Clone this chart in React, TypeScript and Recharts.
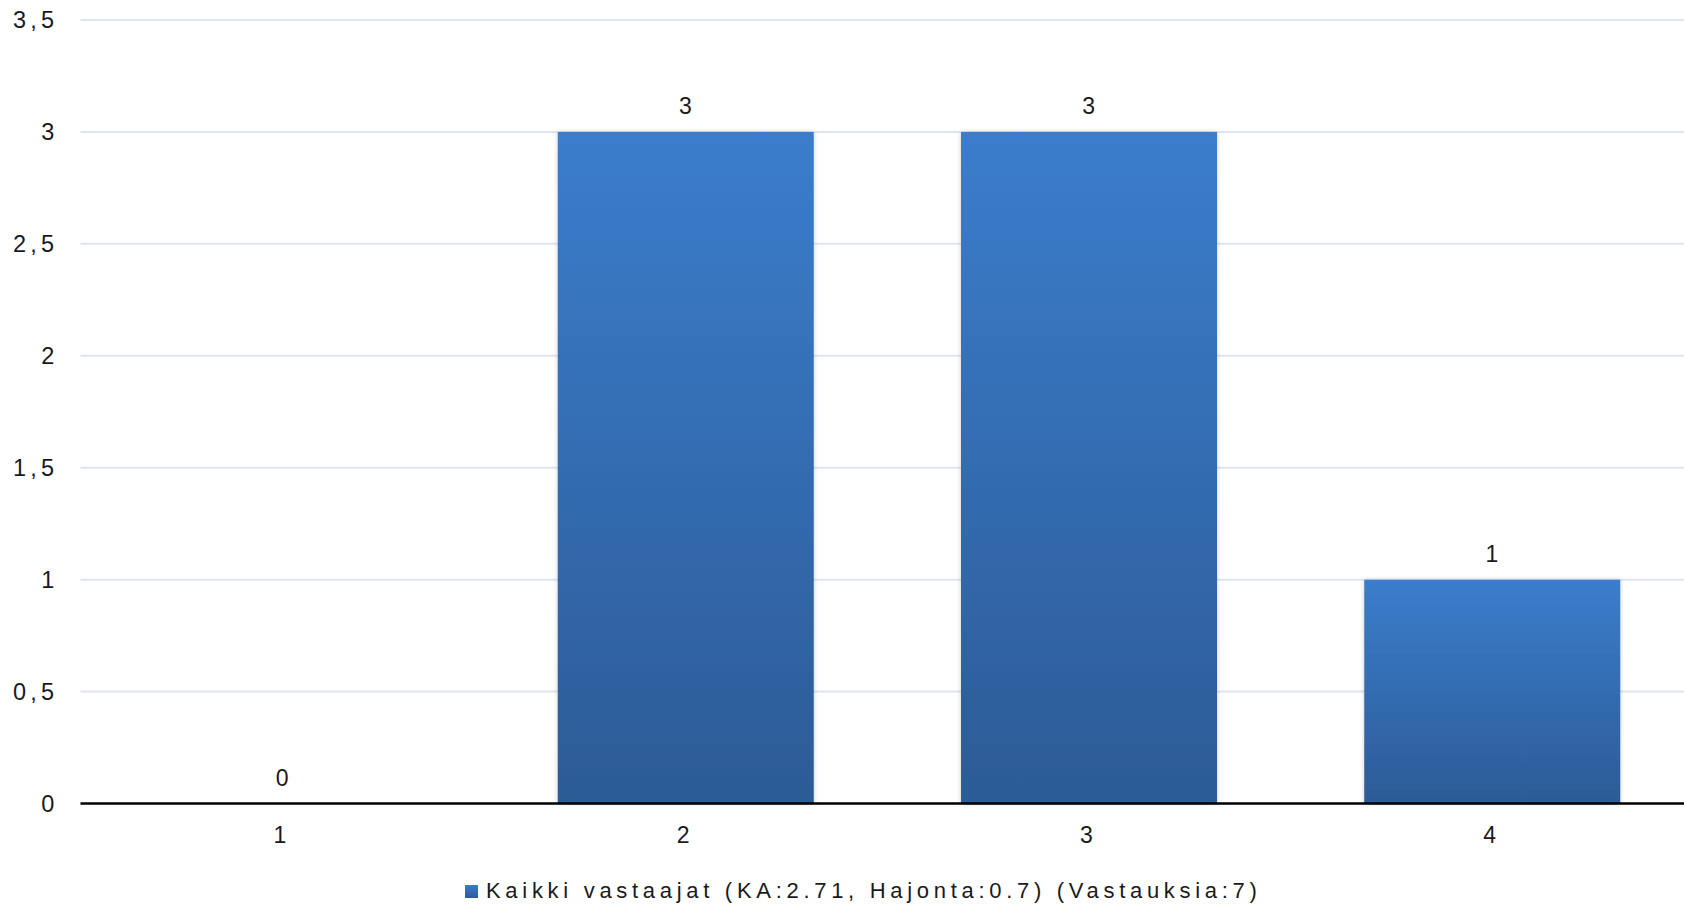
import React from 'react';
import { ComposedChart, Bar, Line, XAxis, YAxis, CartesianGrid, Legend, LabelList } from 'recharts';

const categories = ['1', '2', '3', '4'];
const counts = [0, 3, 3, 1];
const yTicks = [0, 0.5, 1, 1.5, 2, 2.5, 3, 3.5];
const seriesName = 'Kaikki vastaajat (KA:2.71, Hajonta:0.7) (Vastauksia:7)';

const data = categories.map((c, i) => ({ category: c, value: counts[i] }));

const FONT = '"Liberation Sans", Arial, sans-serif';
const TEXT = '#1a1a1a';

const fmt = (v: number) => String(v).replace('.', ',');

const LegendContent = () => (
  <div style={{ height: 0, position: 'relative' }}>
    <div
      style={{
        position: 'absolute',
        left: 465,
        top: 0,
        display: 'flex',
        alignItems: 'center',
        whiteSpace: 'nowrap',
        fontFamily: FONT,
        fontSize: 22,
        letterSpacing: 4.7,
        color: TEXT,
        height: 26,
      }}
    >
      <span
        style={{
          display: 'inline-block',
          width: 13,
          height: 13,
          marginRight: 8,
          background: 'linear-gradient(#3b7dcc, #2c5b96)',
        }}
      />
      <span>{seriesName}</span>
    </div>
  </div>
);

export default function App() {
  return (
    <div
      style={{
        position: 'fixed',
        left: 0,
        top: 0,
        width: 1684,
        height: 906,
        overflow: 'hidden',
        background: '#fff',
      }}
    >
      <ComposedChart
        width={1700}
        height={906}
        data={data}
        margin={{ top: 20, right: 6.5, left: 0, bottom: 0 }}
      >
        <defs>
          <linearGradient id="barGrad" x1="0" y1="0" x2="0" y2="1">
            <stop offset="0%" stopColor="#3b7dcc" />
            <stop offset="100%" stopColor="#2c5b96" />
          </linearGradient>
          <filter id="barShadow" x="-10%" y="-5%" width="120%" height="110%">
            <feDropShadow dx="0" dy="0" stdDeviation="2" floodColor="#000" floodOpacity="0.22" />
          </filter>
        </defs>
        <CartesianGrid vertical={false} stroke="#dce6f2" strokeWidth={2} />
        <XAxis
          dataKey="category"
          height={102.5}
          tickLine={false}
          tickSize={0}
          tickMargin={23}
          axisLine={{ stroke: '#000', strokeWidth: 2.5 }}
          tick={{ fill: TEXT, fontSize: 23, fontFamily: FONT, letterSpacing: 4.5 }}
          interval={0}
        />
        <YAxis
          domain={[0, 3.5]}
          ticks={yTicks}
          interval={0}
          width={80.5}
          axisLine={false}
          tickLine={false}
          tickSize={0}
          tickMargin={22}
          tickFormatter={fmt}
          tick={{ fill: TEXT, fontSize: 23.5, fontFamily: FONT, letterSpacing: 4.3 }}
        />
        <Legend
          content={<LegendContent />}
          wrapperStyle={{ top: 878, left: 0, width: 1684 }}
        />
        <Bar
          dataKey="value"
          name={seriesName}
          barSize={256}
          fill="url(#barGrad)"
          filter="url(#barShadow)"
          isAnimationActive={false}
        />
        <Line
          dataKey="value"
          stroke="none"
          dot={false}
          activeDot={false}
          legendType="none"
          isAnimationActive={false}
        >
          <LabelList
            dataKey="value"
            position="top"
            offset={17.5}
            fill={TEXT}
            style={{ fontSize: 23, fontFamily: FONT }}
          />
        </Line>
      </ComposedChart>
    </div>
  );
}
